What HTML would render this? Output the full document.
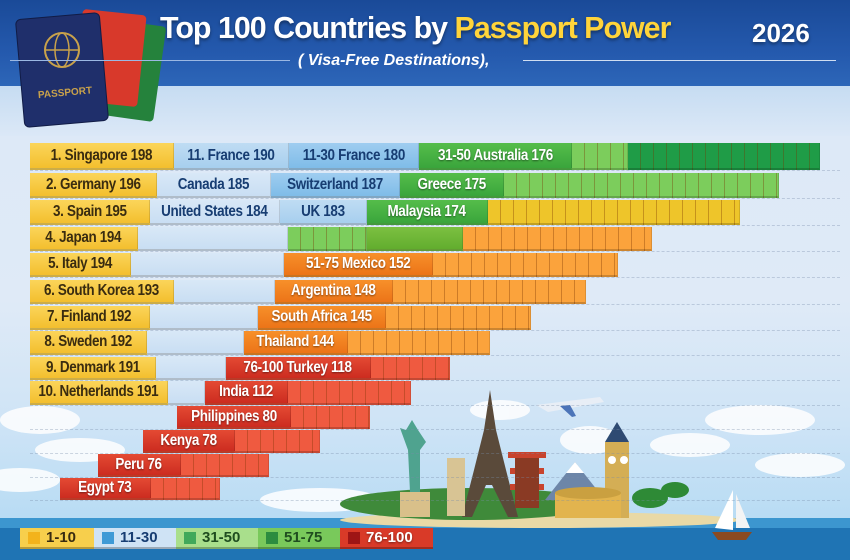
<!DOCTYPE html>
<html><head><meta charset="utf-8">
<style>
*{margin:0;padding:0;box-sizing:border-box}
body{width:850px;height:560px;overflow:hidden;position:relative;font-family:"Liberation Sans",sans-serif;background:linear-gradient(#dbe8f7 0px,#dfeaf7 300px,#cfe4f6 420px,#b9dcf4 515px)}
.abs{position:absolute}
.seg{position:absolute;font-weight:bold;font-size:16px;display:flex;align-items:center;justify-content:center;white-space:nowrap;border-bottom:2px solid rgba(0,0,0,.18);border-right:1px solid rgba(0,0,0,.12);overflow:visible}
.seg span{display:inline-block;transform:scaleX(.84);letter-spacing:-.4px}
.wt{color:#fff;text-shadow:0 1px 2px rgba(0,0,0,.45)}
.dk{color:#3a2c10}
.nv{color:#173d72}
.grid{position:absolute;left:30px;right:10px;border-top:1px dashed rgba(120,140,170,.35)}
.leg{position:absolute;top:528px;height:21px;display:flex;align-items:center;font-weight:bold;font-size:15px;padding-left:8px;border-bottom:2px solid rgba(0,0,0,.25)}
.leg i{display:inline-block;width:12px;height:12px;margin-right:6px}
</style></head>
<body>
<div class="abs" style="left:0;top:0;width:850px;height:86px;background:linear-gradient(#1a4a98,#2459ad 60%,#2d66b8)"></div>
<div class="abs" style="left:0;top:86px;width:850px;height:50px;background:linear-gradient(#c6dcf2,#dbe8f7)"></div>
<svg class="abs" style="left:4px;top:4px" width="180" height="130">
<rect x="92" y="18" width="64" height="96" rx="4" transform="rotate(8 124 66)" fill="#25823c"/>
<rect x="74" y="8" width="64" height="92" rx="4" transform="rotate(6 106 54)" fill="#d8392b"/>
<rect x="16" y="12" width="84" height="108" rx="5" transform="rotate(-5 58 66)" fill="#1f2f6b" stroke="#111c46"/>
<circle cx="58" cy="46" r="17" fill="none" stroke="#c9a24b" stroke-width="2"/>
<ellipse cx="58" cy="46" rx="7" ry="17" fill="none" stroke="#c9a24b" stroke-width="1.5"/>
<line x1="41" y1="46" x2="75" y2="46" stroke="#c9a24b" stroke-width="1.5"/>
<text x="34" y="92" font-size="10" fill="#c9a24b" font-family="Liberation Sans" font-weight="bold" transform="rotate(-5 58 90)">PASSPORT</text>
</svg>
<div class="abs" style="left:160px;top:10px;font-weight:bold;font-size:31px;color:#fff;letter-spacing:-1px;transform:scaleX(.98);transform-origin:left;text-shadow:0 2px 3px rgba(0,0,0,.4);white-space:nowrap">Top 100 Countries by <span style="color:#ffd43a">Passport Power</span></div>
<div class="abs" style="left:752px;top:18px;font-weight:bold;font-size:26px;color:#fff;text-shadow:0 2px 3px rgba(0,0,0,.4)">2026</div>
<div class="abs" style="left:10px;top:60px;width:280px;height:1px;background:#9bb8e3"></div>
<div class="abs" style="left:523px;top:60px;width:313px;height:1px;background:#d0def2"></div>
<div class="abs" style="left:298px;top:52px;font-weight:bold;font-style:italic;font-size:16px;color:#fff">( Visa-Free Destinations),</div>
<svg class="abs" style="left:0;top:380px" width="850" height="180">
<g fill="#fff" opacity=".85">
<ellipse cx="40" cy="40" rx="40" ry="14"/><ellipse cx="80" cy="70" rx="45" ry="12"/><ellipse cx="20" cy="100" rx="40" ry="12"/><ellipse cx="760" cy="40" rx="55" ry="15"/><ellipse cx="690" cy="65" rx="40" ry="12"/><ellipse cx="800" cy="85" rx="45" ry="12"/><ellipse cx="590" cy="60" rx="30" ry="14"/><ellipse cx="500" cy="30" rx="30" ry="10"/><ellipse cx="320" cy="120" rx="60" ry="12"/>
</g>
<rect x="0" y="138" width="850" height="42" fill="#1f74b4"/>
<rect x="0" y="138" width="850" height="10" fill="#3c96cf"/>
<ellipse cx="540" cy="140" rx="200" ry="8" fill="#e9d9a6"/>
<ellipse cx="470" cy="124" rx="130" ry="16" fill="#3f8a3a"/>
<polygon points="545,120 575,82 605,120" fill="#6d86a8"/><polygon points="566,93 575,82 584,93" fill="#fff"/>
<rect x="400" y="112" width="30" height="25" fill="#d9c08a"/><path d="M410 112 L408 70 L400 48 L406 50 L412 40 L418 50 L426 62 L420 70 L420 112Z" fill="#4fa38f"/>
<path d="M490 10 L496 50 L506 90 L518 137 L508 137 L492 105 L486 105 L472 137 L462 137 L474 90 L484 50Z" fill="#5a4a3a"/>
<rect x="447" y="78" width="18" height="58" fill="#d8c494"/>
<g fill="#c8432d"><rect x="508" y="72" width="38" height="6"/><rect x="510" y="88" width="34" height="6"/><rect x="510" y="104" width="34" height="6"/></g>
<rect x="515" y="78" width="24" height="50" fill="#8a3a24"/>
<rect x="605" y="62" width="24" height="76" fill="#d4ae55"/><polygon points="605,62 617,42 629,62" fill="#2e4a72"/><circle cx="612" cy="80" r="4" fill="#fff"/><circle cx="624" cy="80" r="4" fill="#fff"/>
<rect x="555" y="113" width="66" height="25" fill="#e2b44e"/><ellipse cx="588" cy="113" rx="33" ry="6" fill="#caa040"/>
<g fill="#2e8a36"><ellipse cx="650" cy="118" rx="18" ry="10"/><ellipse cx="675" cy="110" rx="14" ry="8"/></g>
<polygon points="733,110 733,150 715,148" fill="#fff"/><polygon points="736,114 736,148 750,148" fill="#f4f4f4"/><path d="M712 152 H752 L746 160 H718Z" fill="#8a4a22"/>
<path d="M536 25 L600 17 L604 22 L548 32Z" fill="#e8eef6"/><path d="M560 26 L572 37 L576 36 L570 25Z" fill="#4c74b8"/>
</svg>

<div id="chart"></div>

<div class="leg dk" style="left:20px;width:74px;background:#f7cf4c"><i style="background:#f3b31c"></i>1-10</div>
<div class="leg nv" style="left:94px;width:82px;background:#cfe3f5"><i style="background:#3f9ad6"></i>11-30</div>
<div class="leg" style="left:176px;width:82px;background:#a9df8c;color:#1f4d1f"><i style="background:#41a95a"></i>31-50</div>
<div class="leg" style="left:258px;width:82px;background:#79c95b;color:#1f4d1f"><i style="background:#2c8c3f"></i>51-75</div>
<div class="leg wt" style="left:340px;width:93px;background:#d93a28"><i style="background:#9e1515"></i>76-100</div>

<script>
const rowLabels=[
 ["1. Singapore 198","11. France 190","11-30 France 180","31-50 Australia 176"],
 ["2. Germany 196","Canada 185","Switzerland 187","Greece 175"],
 ["3. Spain 195","United States 184","UK 183","Malaysia 174"],
 ["4. Japan 194","","","Brazil 170"],
 ["5. Italy 194","","51-75 Mexico 152"],
 ["6. South Korea 193","","Argentina 148"],
 ["7. Finland 192","","South Africa 145"],
 ["8. Sweden 192","","Thailand 144"],
 ["9. Denmark 191","","76-100 Turkey 118"],
 ["10. Netherlands 191","","India 112"],
 ["Philippines 80"],["Kenya 78"],["Peru 76"],["Egypt 73"]];
const rowTop=[143,173,200,227,253,280,306,331,357,381,406,430,454,478];
const rowH=[27,25,25,24,24,24,24,24,23,24,23,23,23,22];
const rowEdges=[[30,174,289,419,572,628,820],[30,157,271,400,504,779],[30,150,280,367,488,740],[30,138,288,367,463,652],[30,131,284,433,618],[30,174,275,393,586],[30,150,258,386,531],[30,147,244,348,490],[30,156,226,371,450],[30,168,205,288,411],[177,291,370],[143,235,320],[98,181,269],[60,151,220]];
const rowStyles=[
 ["y","lb","b","g","tlg","tdg"],["y","p","b","g","tlg"],["y","p","lb","g","ty"],["y","p","tlg","gb","to"],
 ["y","p","o","to"],["y","p","o","to"],["y","p","o","to"],["y","p","o","to"],["y","p","r","tr"],["y","p","r","tr"],
 ["r","tr"],["r","tr"],["r","tr"],["r","tr"]];
const STY={y:["linear-gradient(#fbd55a,#f3bf2e)","dk"],lb:["linear-gradient(#bfdcf3,#a7cfee)","nv"],b:["linear-gradient(#9fcdf0,#7fbce8)","nv"],
 p:["linear-gradient(#d8e8f7,#c9def3)","nv"],g:["linear-gradient(#55bd4a,#3aa53c)","wt"],gb:["linear-gradient(#7cc041,#62ad2e)","wt"],
 o:["linear-gradient(#f7902a,#ec7418)","wt"],r:["linear-gradient(#e44a33,#cc2c20)","wt"],
 tlg:["#7ccd5c",""],tdg:["#1f9c47",""],ty:["#eec52a",""],to:["#fba33c",""],tr:["#ef5a40",""]};
const chart=document.getElementById('chart');
for(let i=0;i<14;i++){
  const g=document.createElement('div');g.className='grid';g.style.top=(rowTop[i]+rowH[i])+'px';
  
  
  chart.appendChild(g);
}
rowEdges.forEach((edges,r)=>{
  let li=0;
  for(let k=0;k<edges.length-1;k++){
    const st=rowStyles[r][k];const s=STY[st];
    const d=document.createElement('div');
    d.className='seg '+(st[0]==='t'?'':s[1]);
    d.style.left=edges[k]+'px';d.style.width=(edges[k+1]-edges[k])+'px';
    d.style.top=rowTop[r]+'px';d.style.height=rowH[r]+'px';d.style.background=s[0];
    if(st[0]==='t'){d.style.backgroundImage='repeating-linear-gradient(90deg,transparent 0 12px,rgba(120,50,0,.35) 12px 13px),linear-gradient('+s[0]+','+s[0]+')';}
    else{const t=rowLabels[r][li++]||'';if(t){const sp=document.createElement('span');sp.textContent=t;d.appendChild(sp);}}
    
    
    chart.appendChild(d);
  }
});
</script>
</body></html>
